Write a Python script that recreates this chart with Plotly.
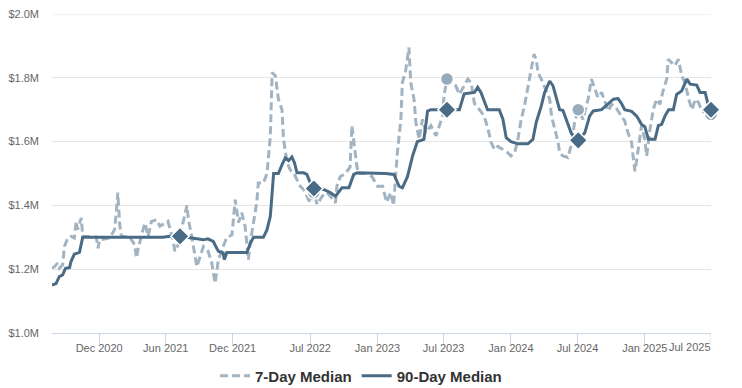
import plotly.graph_objects as go

# ---- data (values in $M) ----
d90_dates = [
    "2020-07-25","2020-08-05","2020-08-14","2020-08-23","2020-08-31","2020-09-11","2020-09-15","2020-09-24","2020-10-08","2020-10-13",
    "2020-10-17","2021-05-24","2021-06-21","2021-07-10","2021-08-06","2021-09-12","2021-09-24","2021-10-09","2021-10-23","2021-11-05",
    "2021-11-08","2021-11-15","2022-01-09","2022-01-18","2022-01-27","2022-02-23","2022-03-05","2022-03-14","2022-03-23","2022-04-05",
    "2022-04-15","2022-04-24","2022-05-03","2022-05-12","2022-05-19","2022-05-26","2022-06-13","2022-06-22","2022-07-01","2022-07-11",
    "2022-08-07","2022-08-25","2022-09-08","2022-09-17","2022-09-26","2022-10-15","2022-10-28","2022-11-07","2023-01-23","2023-02-15",
    "2023-03-01","2023-03-10","2023-03-24","2023-04-07","2023-04-20","2023-05-08","2023-05-18","2023-05-27","2023-07-10","2023-08-13",
    "2023-08-26","2023-09-23","2023-10-02","2023-10-11","2023-10-29","2023-11-30","2023-12-10","2023-12-19","2024-01-01","2024-01-20",
    "2024-02-16","2024-03-01","2024-03-10","2024-03-24","2024-04-02","2024-04-16","2024-04-25","2024-05-04","2024-05-13","2024-05-22",
    "2024-06-05","2024-06-14","2024-07-03","2024-07-21","2024-08-03","2024-08-13","2024-09-05","2024-09-23","2024-10-07","2024-10-20",
    "2024-10-29","2024-11-07","2024-11-26","2024-12-10","2024-12-23","2025-01-01","2025-01-11","2025-01-29","2025-02-07","2025-02-16",
    "2025-02-25","2025-03-07","2025-03-20","2025-03-29","2025-04-12","2025-04-26","2025-05-05","2025-05-23","2025-06-01","2025-06-15",
    "2025-06-24","2025-07-01",
]
d90_values = [
    1.150,1.155,1.177,1.182,1.203,1.205,1.224,1.247,1.253,1.282,
    1.300,1.300,1.305,1.303,1.298,1.292,1.295,1.287,1.256,1.251,
    1.230,1.252,1.252,1.280,1.300,1.300,1.324,1.366,1.500,1.500,
    1.528,1.549,1.540,1.552,1.534,1.502,1.502,1.497,1.471,1.453,
    1.450,1.440,1.429,1.444,1.455,1.455,1.497,1.502,1.500,1.497,
    1.460,1.455,1.490,1.555,1.600,1.607,1.696,1.700,1.700,1.700,
    1.750,1.754,1.770,1.754,1.700,1.700,1.670,1.612,1.600,1.593,
    1.593,1.607,1.660,1.712,1.754,1.790,1.775,1.741,1.700,1.698,
    1.650,1.626,1.604,1.628,1.680,1.696,1.700,1.717,1.733,1.735,
    1.720,1.700,1.695,1.680,1.654,1.647,1.607,1.607,1.650,1.654,
    1.680,1.700,1.700,1.748,1.759,1.796,1.780,1.777,1.754,1.754,
    1.712,1.700,
]

d7_dates = [
    "2020-07-25","2020-08-01","2020-08-09","2020-08-14","2020-08-23","2020-08-28","2020-09-06","2020-09-15","2020-09-24","2020-09-29",
    "2020-10-03","2020-10-13","2020-10-17","2020-11-23","2020-11-28","2020-12-02","2020-12-30","2021-01-12","2021-01-17","2021-01-21",
    "2021-01-26","2021-01-31","2021-02-22","2021-03-08","2021-03-13","2021-03-17","2021-03-26","2021-04-05","2021-04-14","2021-04-23",
    "2021-05-07","2021-05-16","2021-06-07","2021-06-21","2021-06-26","2021-07-05","2021-07-10","2021-07-29","2021-08-02","2021-08-11",
    "2021-08-25","2021-09-03","2021-09-12","2021-09-25","2021-10-05","2021-10-14","2021-10-23","2021-11-05","2021-11-15","2021-11-29",
    "2021-12-08","2021-12-17","2021-12-26","2022-01-04","2022-01-13","2022-01-18","2022-02-05","2022-02-09","2022-02-23","2022-03-05",
    "2022-03-14","2022-03-19","2022-03-28","2022-04-05","2022-04-15","2022-04-19","2022-04-29","2022-05-08","2022-05-17","2022-05-26",
    "2022-06-04","2022-06-13","2022-06-22","2022-07-01","2022-07-11","2022-07-20","2022-08-03","2022-08-16","2022-08-25","2022-09-08",
    "2022-09-12","2022-09-21","2022-10-05","2022-10-18","2022-10-23","2022-11-01","2022-11-06","2022-11-10","2022-12-03","2022-12-17",
    "2023-01-01","2023-01-15","2023-01-26","2023-02-06","2023-02-14","2023-02-24","2023-03-06","2023-03-10","2023-03-19","2023-03-28",
    "2023-04-02","2023-04-11","2023-04-16","2023-04-25","2023-05-04","2023-05-13","2023-05-27","2023-06-10","2023-06-19","2023-06-28",
    "2023-07-02","2023-07-10","2023-08-03","2023-08-13","2023-08-26","2023-09-05","2023-09-14","2023-09-23","2023-10-07","2023-10-20",
    "2023-10-30","2023-11-08","2023-11-17","2023-11-26","2023-12-10","2023-12-23","2024-01-01","2024-01-11","2024-01-20","2024-01-29",
    "2024-02-07","2024-02-16","2024-02-25","2024-03-04","2024-03-10","2024-03-15","2024-03-24","2024-04-07","2024-04-16","2024-04-21",
    "2024-04-30","2024-05-09","2024-05-13","2024-05-22","2024-06-05","2024-06-14","2024-06-23","2024-07-03","2024-07-16","2024-07-30",
    "2024-08-08","2024-08-17","2024-08-26","2024-09-05","2024-09-14","2024-09-23","2024-10-02","2024-10-11","2024-10-20","2024-10-29",
    "2024-11-07","2024-11-16","2024-11-26","2024-12-01","2024-12-05","2024-12-14","2024-12-23","2025-01-01","2025-01-06","2025-01-15",
    "2025-01-24","2025-02-02","2025-02-11","2025-02-20","2025-03-02","2025-03-06","2025-03-15","2025-03-24","2025-04-03","2025-04-12",
    "2025-04-21","2025-05-01","2025-05-10","2025-05-19","2025-05-28","2025-06-06","2025-06-15","2025-06-24","2025-07-01",
]
d7_values = [
    1.203,1.208,1.219,1.203,1.214,1.271,1.298,1.303,1.298,1.350,
    1.324,1.361,1.303,1.301,1.266,1.292,1.298,1.324,1.380,1.440,
    1.340,1.303,1.301,1.277,1.235,1.261,1.303,1.345,1.303,1.350,
    1.355,1.335,1.350,1.293,1.256,1.277,1.305,1.400,1.356,1.303,
    1.208,1.240,1.271,1.256,1.219,1.156,1.230,1.271,1.300,1.307,
    1.418,1.346,1.377,1.335,1.230,1.282,1.410,1.470,1.470,1.500,
    1.617,1.816,1.806,1.733,1.700,1.607,1.534,1.510,1.502,1.480,
    1.460,1.450,1.429,1.408,1.440,1.403,1.429,1.440,1.429,1.408,
    1.460,1.490,1.500,1.520,1.650,1.565,1.520,1.500,1.500,1.490,
    1.460,1.460,1.410,1.440,1.400,1.560,1.670,1.785,1.822,1.895,
    1.785,1.733,1.660,1.607,1.670,1.628,1.650,1.618,1.650,1.680,
    1.744,1.796,1.775,1.748,1.775,1.796,1.785,1.720,1.700,1.680,
    1.640,1.597,1.575,1.585,1.575,1.565,1.555,1.565,1.607,1.670,
    1.712,1.764,1.827,1.874,1.858,1.816,1.796,1.754,1.733,1.680,
    1.637,1.597,1.565,1.555,1.550,1.590,1.660,1.700,1.670,1.733,
    1.796,1.764,1.738,1.754,1.722,1.696,1.717,1.712,1.696,1.680,
    1.665,1.628,1.597,1.544,1.507,1.575,1.650,1.607,1.555,1.637,
    1.700,1.733,1.717,1.759,1.796,1.858,1.848,1.838,1.858,1.806,
    1.785,1.733,1.700,1.733,1.722,1.696,1.691,1.686,1.685,
]

marker_dates = ["2021-07-10", "2022-07-11", "2023-07-10", "2024-07-03", "2025-07-01"]

tick_dates = ["2020-12-01", "2021-06-01", "2021-12-01", "2022-07-01", "2023-01-01",
              "2023-07-01", "2024-01-01", "2024-07-01", "2025-01-01", "2025-07-01"]
tick_labels = ["Dec 2020", "Jun 2021", "Dec 2021", "Jul 2022", "Jan 2023",
               "Jul 2023", "Jan 2024", "Jul 2024", "Jan 2025", "Jul 2025"]
y_ticks = [1.0, 1.2, 1.4, 1.6, 1.8, 2.0]
y_tick_labels = ["$1.0M", "$1.2M", "$1.4M", "$1.6M", "$1.8M", "$2.0M"]

C7 = "#a2b3c1"
C90 = "#4a6b85"
FONT = "Liberation Sans, Arial, sans-serif"

d7_map = dict(zip(d7_dates, d7_values))
d90_map = dict(zip(d90_dates, d90_values))

fig = go.Figure()
fig.add_trace(go.Scatter(
    x=d7_dates, y=d7_values, mode="lines", name="7-Day Median",
    line=dict(color=C7, width=3, dash="8px,4px"),
))
fig.add_trace(go.Scatter(
    x=d90_dates, y=d90_values, mode="lines", name="90-Day Median",
    line=dict(color=C90, width=3),
))
fig.add_trace(go.Scatter(
    x=marker_dates, y=[d7_map[d] for d in marker_dates], mode="markers",
    showlegend=False, cliponaxis=False,
    marker=dict(symbol="circle", size=13, color="#97abbb", line=dict(color="white", width=1.5)),
))
fig.add_trace(go.Scatter(
    x=marker_dates, y=[d90_map[d] for d in marker_dates], mode="markers",
    showlegend=False, cliponaxis=False,
    marker=dict(symbol="diamond", size=14, color=C90, line=dict(color="white", width=1.5)),
))

# page body has an 8px margin, so the figure is drawn 8px in from the top-left
W, H = 734, 380
fig.update_layout(
    width=W, height=H, autosize=False,
    margin=dict(l=44, r=31, t=6, b=55, autoexpand=False),
    paper_bgcolor="white", plot_bgcolor="white",
    font=dict(family=FONT, color="#666666", size=11),
    legend=dict(orientation="h", x=(361 - 8) / W, xanchor="center", xref="container",
                y=12 / H, yanchor="middle", yref="container",
                font=dict(family=FONT, size=15, color="#333333", weight="bold"),
                itemwidth=30, tracegroupgap=0),
    hovermode=False,
)
fig.update_xaxes(
    type="date", range=["2020-07-25", "2025-07-01"],
    tickvals=tick_dates[:-1], ticktext=tick_labels[:-1], automargin=False,
    showgrid=False, showline=True, linecolor="#ccd6eb", linewidth=1,
    ticks="outside", ticklen=10, tickcolor="#ccd6eb", tickwidth=1,
    tickfont=dict(size=11, color="#666666"), zeroline=False, ticklabelstandoff=-5,
)
fig.add_shape(type="line", xref="x", yref="paper", x0=tick_dates[-1], x1=tick_dates[-1],
              y0=0, y1=-10 / 319, line=dict(color="#ccd6eb", width=1))
fig.add_annotation(x=tick_dates[-1], xref="x", y=0, yref="paper", yshift=-6, xshift=2,
                   text=tick_labels[-1], showarrow=False, xanchor="right", yanchor="top",
                   font=dict(size=11, color="#666666", family=FONT))
fig.update_yaxes(
    range=[1.0, 2.0], tickvals=y_ticks, ticktext=y_tick_labels, automargin=False,
    showgrid=True, gridcolor="#e6e6e6", gridwidth=1, zeroline=False, showline=False,
    tickfont=dict(size=11, color="#666666"), ticklabelstandoff=12,
    ticklabeloverflow="allow",
)
# top grid line at $2.0M (drawn explicitly so it is never dropped at the range edge)
fig.add_shape(type="line", xref="paper", yref="y", x0=0, x1=1, y0=y_ticks[-1], y1=y_ticks[-1],
              line=dict(color="#e6e6e6", width=1), layer="below")

fig.write_html("out.html")
